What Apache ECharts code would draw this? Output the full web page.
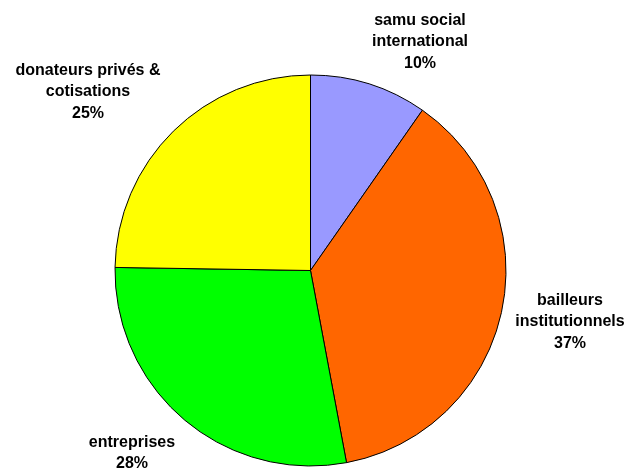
<!DOCTYPE html>
<html>
<head>
<meta charset="utf-8">
<script src="https://cdn.jsdelivr.net/npm/echarts@6/dist/echarts.min.js"></script>
<style>
html,body{margin:0;padding:0;background:#fff;}
#chart{width:631px;height:470px;}
</style>
</head>
<body>
<div id="chart"></div>
<script>
// Data
const categories = ['samu social\ninternational', 'bailleurs\ninstitutionnels', 'entreprises', 'donateurs privés &\ncotisations'];
const values = [9.7, 37.35, 28.2, 24.75];
const colors = ['#9999FF', '#FF6600', '#00FF00', '#FFFF00'];

// Label anchor positions (layout only)
const labelPos = [[420, 42], [570, 322], [132, 453], [88, 92]];

const chart = echarts.init(document.getElementById('chart'), null, {renderer: 'canvas'});
chart.setOption({
  animation: false,
  backgroundColor: '#ffffff',
  series: [{
    type: 'pie',
    center: [310.5, 270.5],
    radius: 195.5,
    startAngle: 90,
    clockwise: true,
    avoidLabelOverlap: false,
    data: categories.map((c, i) => ({
      name: c,
      value: values[i],
      itemStyle: {color: colors[i]}
    })),
    itemStyle: {borderColor: '#000', borderWidth: 1},
    emphasis: {disabled: true},
    label: {
      show: true,
      position: 'outside',
      formatter: p => p.name + '\n' + Math.round(p.percent) + '%',
      fontFamily: 'Liberation Sans, Arial, sans-serif',
      fontWeight: 'bold',
      fontSize: 16,
      lineHeight: 21.5,
      color: '#000',
      align: 'center'
    },
    labelLine: {show: false},
    labelLayout: function (params) {
      const pos = labelPos[params.dataIndex];
      return {x: pos[0], y: pos[1], align: 'center', verticalAlign: 'middle'};
    }
  }]
});
</script>
</body>
</html>
